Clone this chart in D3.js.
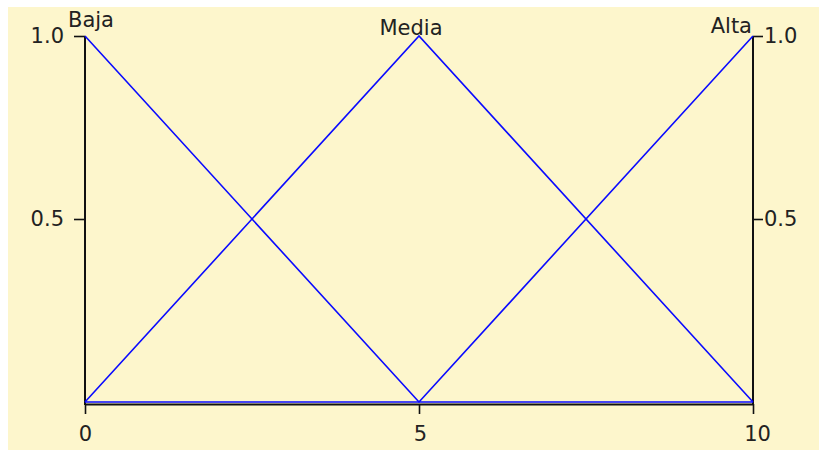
<!DOCTYPE html>
<html>
<head>
<meta charset="utf-8">
<script src="https://cdn.jsdelivr.net/npm/d3@7"></script>
<style>
  html, body { margin: 0; padding: 0; background: #ffffff; }
  svg { display: block; }
  text { font-family: "DejaVu Sans", sans-serif; }
</style>
</head>
<body>
<svg id="chart" width="819" height="450"></svg>
<script>
// ---- data ----
const xPoints = [0, 5, 10];
const setNames = ["Baja", "Media", "Alta"];
const bajaValues = [1, 0, 0];
const mediaValues = [0, 1, 0];
const altaValues = [0, 0, 1];
const xTickValues = [0, 5, 10];
const yTickValues = [0.5, 1.0];

const seriesValues = [bajaValues, mediaValues, altaValues];

// ---- layout ----
const svg = d3.select("#chart");
const W = 819, H = 450;
const bg = "#fdf6cc";
const blue = "#0a0aff";
const ink = "#111111";

svg.append("rect").attr("x", 8).attr("y", 7).attr("width", W - 8).attr("height", H - 7).attr("fill", bg);

const x = d3.scaleLinear().domain([0, 10]).range([85, 753]);
const y = d3.scaleLinear().domain([0, 1]).range([402, 36]);

// x axis
const xAxis = d3.axisBottom(x).tickValues(xTickValues).tickFormat(d3.format("d"))
  .tickSize(10).tickSizeOuter(0).tickPadding(12);
const gx = svg.append("g").attr("transform", "translate(0,404)").call(xAxis);

// left y axis
const yAxisL = d3.axisLeft(y).tickValues(yTickValues).tickFormat(d3.format(".1f"))
  .tickSize(11).tickSizeOuter(0).tickPadding(10);
const gyl = svg.append("g").attr("transform", "translate(85,0)").call(yAxisL);

// right y axis
const yAxisR = d3.axisRight(y).tickValues(yTickValues).tickFormat(d3.format(".1f"))
  .tickSize(10).tickSizeOuter(0).tickPadding(1);
const gyr = svg.append("g").attr("transform", "translate(753,0)").call(yAxisR);

[gx, gyl, gyr].forEach(g => {
  g.select(".domain").attr("stroke", ink).attr("stroke-width", 2);
  g.selectAll(".tick line").attr("stroke", ink).attr("stroke-width", 1.6);
  g.selectAll(".tick text").attr("fill", "#222").attr("font-size", 21)
    .attr("font-family", "DejaVu Sans, sans-serif");
});
gyl.select(".domain").attr("d", `M0,${y(1)}V405`);
gyr.select(".domain").attr("d", `M0,${y(1)}V405`);
gx.selectAll(".tick text").attr("dx", (d, i) => [0, 1, 4][i]);

// membership functions
const line = d3.line().x(d => x(d[0])).y(d => y(d[1]));
seriesValues.forEach(vals => {
  const pts = xPoints.map((xv, i) => [xv, vals[i]]);
  svg.append("path").attr("d", line(pts)).attr("fill", "none")
    .attr("stroke", blue).attr("stroke-width", 1.6).attr("stroke-linejoin", "miter");
});

// set labels
const labelStyle = [
  { anchor: "start", dx: -17, base: 27 },
  { anchor: "middle", dx: -8, base: 35 },
  { anchor: "end", dx: -1, base: 33 }
];
setNames.forEach((name, i) => {
  const peakIdx = seriesValues[i].indexOf(1);
  const s = labelStyle[i];
  svg.append("text").text(name)
    .attr("x", x(xPoints[peakIdx]) + s.dx).attr("y", s.base)
    .attr("text-anchor", s.anchor).attr("font-size", 21).attr("fill", "#222");
});
</script>
</body>
</html>
